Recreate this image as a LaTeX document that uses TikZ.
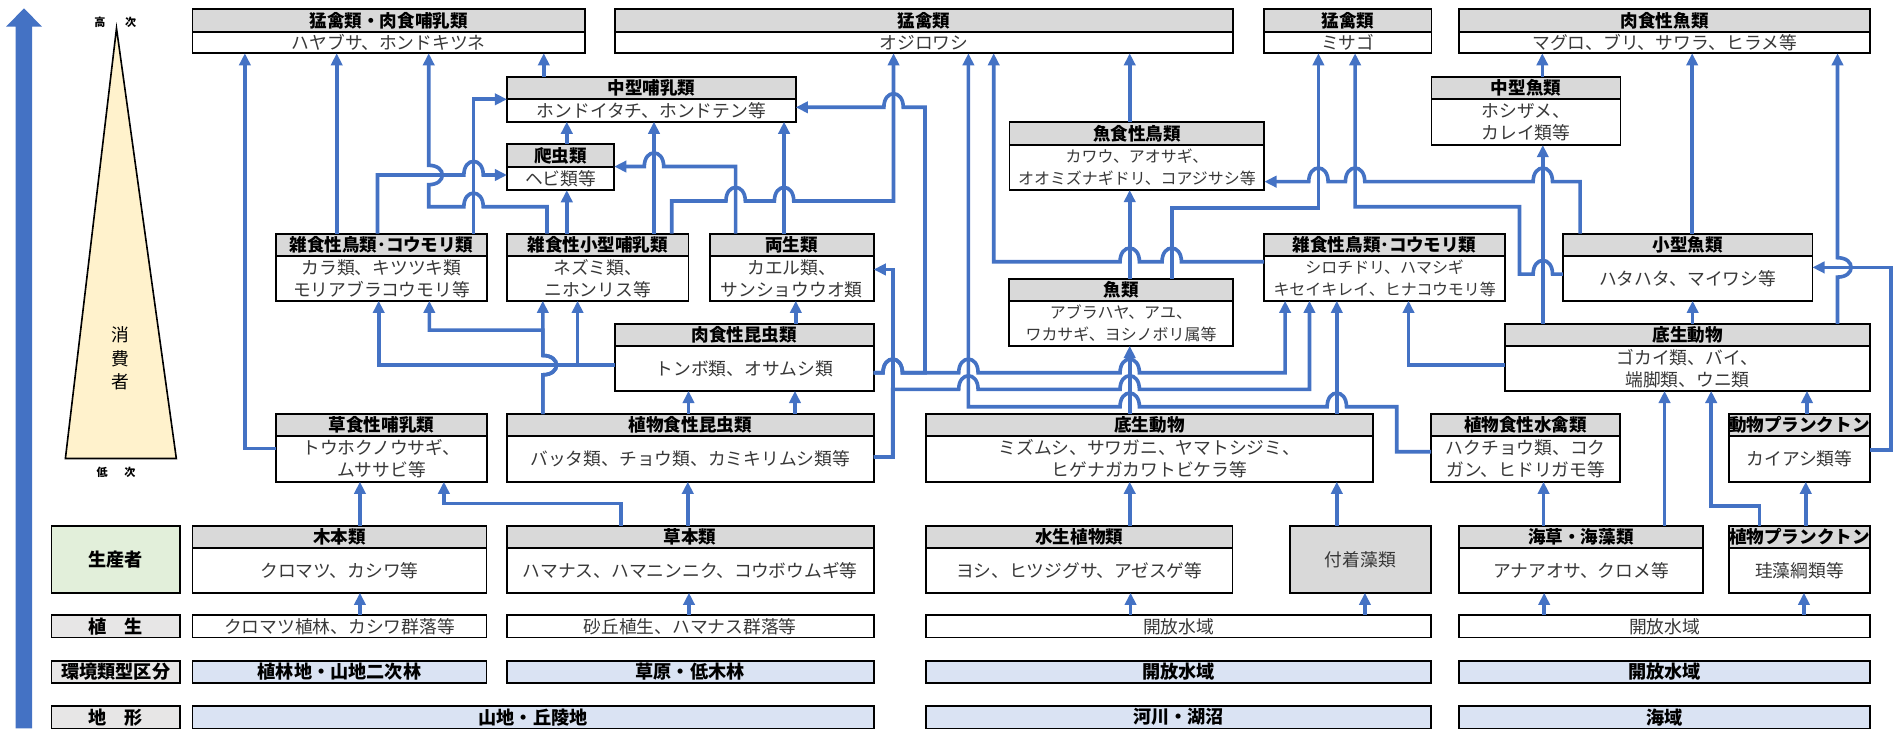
\documentclass[tikz,border=0pt]{standalone}
\usepackage{fontspec}
\setmainfont{Noto Sans CJK JP}
\usetikzlibrary{arrows.meta}
\definecolor{linkblue}{HTML}{4472C4}
\definecolor{hdrgray}{HTML}{D9D9D9}
\definecolor{labgray}{HTML}{E7E6E6}
\definecolor{envblue}{HTML}{DAE3F3}
\definecolor{prodgreen}{HTML}{E2EFDA}
\definecolor{triyellow}{HTML}{FFF2CC}
\newcommand\hdrfont{\fontsize{8.7}{10}\selectfont\bfseries}
\newcommand\bodyfont{\fontsize{8.8}{10.8}\selectfont}
\newcommand\smallbodyfont{\fontsize{7.9}{10.8}\selectfont}
\newcommand\labfont{\fontsize{9}{10}\selectfont\bfseries}
% box with header: name, x1, x2, ytop, yhdr, ybot, title, body, extra body style
\newcommand\tbx[9]{%
  \pgfmathsetmacro\bw{(#3-#2)*0.6}%
  \pgfmathsetmacro\hh{(#5-#4)*0.6}%
  \pgfmathsetmacro\bh{(#6-#5)*0.6}%
  \node[hdr, minimum width=\bw pt, minimum height=\hh pt] (#1h) at (#2,#4) {#7};%
  \node[bdy, minimum width=\bw pt, minimum height=\bh pt, #9] (#1) at (#2,#5) {#8};%
}
% single box: name, x1, x2, y1, y2, style, text
\newcommand\sbx[7]{%
  \pgfmathsetmacro\bw{(#3-#2)*0.6}%
  \pgfmathsetmacro\bh{(#5-#4)*0.6}%
  \node[plain, minimum width=\bw pt, minimum height=\bh pt, #6] (#1) at (#2,#4) {#7};%
}
% hops
\newcommand\hopR[2]{-- ({#1-8},#2) .. controls ({#1-8},{#2-15}) and ({#1+8},{#2-15}) .. ({#1+8},#2)}
\newcommand\hopL[2]{-- ({#1+8},#2) .. controls ({#1+8},{#2-15}) and ({#1-8},{#2-15}) .. ({#1-8},#2)}
\newcommand\hopU[2]{-- (#1,{#2+8}) .. controls ({#1+15},{#2+8}) and ({#1+15},{#2-8}) .. (#1,{#2-8})}
\tikzset{
  hdr/.style={draw=black, line width=0.9pt, fill=hdrgray, inner sep=0pt, outer sep=0pt, font=\hdrfont, anchor=north west},
  bdy/.style={draw=black, line width=0.9pt, fill=white, inner sep=0pt, outer sep=0pt, font=\bodyfont, text=black!78, align=center, anchor=north west},
  plain/.style={draw=black, line width=0.9pt, fill=white, inner sep=0pt, outer sep=0pt, font=\bodyfont, text=black!78, align=center, anchor=north west},
  envrow/.style={fill=envblue, font=\labfont, text=black},
  labcell/.style={fill=labgray, font=\labfont, text=black},
  conn/.style={draw=linkblue, line width=1.8pt},
  arr/.style={conn, -{Triangle[length=6pt,width=5.6pt]}},
  tinylab/.style={font=\fontsize{5.5}{6}\selectfont\bfseries, inner sep=0pt},
}
\begin{document}
\begin{tikzpicture}[x=0.6pt, y=-0.6pt]
\useasboundingbox (0,0) rectangle (1568,604);
% left decorations
\fill[linkblue] (12.8,601.5) -- (12.8,22) -- (5,22) -- (19.8,6.9) -- (34.7,22) -- (26.6,22) -- (26.6,601.5) -- cycle;
\draw[fill=triyellow, line width=0.8pt] (96.2,23.4) -- (145.6,378.6) -- (54,378.6) -- cycle;
\node[tinylab] (hi1) at (82.6,18.7) {高};
\node[tinylab] (hi2) at (107.8,18.7) {次};
\node[tinylab] (lo1) at (84.3,389.6) {低};
\node[tinylab] (lo2) at (107.2,389.6) {次};
\node[font=\fontsize{8.8}{11.6}\selectfont, align=center, inner sep=0pt] (cons) at (99.4,296) {消\\費\\者};

% consumer boxes
\tbx{A1}{159}{483}{7.4}{26.7}{44}{猛禽類・肉食哺乳類}{ハヤブサ、ホンドキツネ}{}
\tbx{oji}{507.7}{1018}{7.4}{26.7}{44}{猛禽類}{オジロワシ}{}
\tbx{mis}{1043.8}{1182}{7.4}{26.7}{44}{猛禽類}{ミサゴ}{}
\tbx{nkg}{1205}{1544}{7.4}{26.7}{44}{肉食性魚類}{マグロ、ブリ、サワラ、ヒラメ等}{}
\tbx{cmm}{418.6}{657.1}{63.6}{82}{100.5}{中型哺乳類}{ホンドイタチ、ホンドテン等}{}
\tbx{cgy}{1182}{1338}{63.6}{82}{119.8}{中型魚類}{ホシザメ、\\カレイ類等}{}
\tbx{hac}{418.6}{507.2}{119}{137.7}{157}{爬虫類}{ヘビ類等}{}
\tbx{gcb}{833.5}{1044}{101}{119.7}{156.9}{魚食性鳥類}{カワウ、アオサギ、\\オオミズナギドリ、コアジサシ等}{font=\smallbodyfont}
\tbx{zbl}{228}{402}{193}{211.5}{248.4}{雑食性鳥類･コウモリ類}{カラ類、キツツキ類\\モリアブラコウモリ等}{}
\tbx{zsm}{418.6}{568.5}{193}{211.5}{248.4}{雑食性小型哺乳類}{ネズミ類、\\ニホンリス等}{}
\tbx{ryo}{585.9}{721.4}{193}{211.5}{248.4}{両生類}{カエル類、\\サンショウウオ類}{}
\tbx{gyo}{833.3}{1017.9}{230.2}{248.4}{285.6}{魚類}{アブラハヤ、アユ、\\ワカサギ、ヨシノボリ属等}{font=\smallbodyfont}
\tbx{zbr}{1043.8}{1242.8}{193}{211.5}{248.4}{雑食性鳥類･コウモリ類}{シロチドリ、ハマシギ\\キセイキレイ、ヒナコウモリ等}{font=\smallbodyfont}
\tbx{kgy}{1290.5}{1496.5}{193}{211.5}{248.4}{小型魚類}{ハタハタ、マイワシ等}{}
\tbx{nkk}{507.7}{721.4}{267.4}{285.7}{322.8}{肉食性昆虫類}{トンボ類、オサムシ類}{}
\tbx{tss}{1242.8}{1544}{267.4}{285.7}{322.8}{底生動物}{ゴカイ類、バイ、\\端脚類、ウニ類}{}
\tbx{sos}{228}{402}{341.9}{360.2}{397.8}{草食性哺乳類}{トウホクノウサギ、\\ムササビ等}{}
\tbx{skk}{418.6}{721.4}{341.9}{360.2}{397.8}{植物食性昆虫類}{バッタ類、チョウ類、カミキリムシ類等}{}
\tbx{tsr}{764.7}{1133.5}{341.9}{360.2}{397.8}{底生動物}{ミズムシ、サワガニ、ヤマトシジミ、\\ヒゲナガカワトビケラ等}{}
\tbx{ssk}{1181.7}{1337.7}{341.9}{360.2}{397.8}{植物食性水禽類}{ハクチョウ類、コク\\ガン、ヒドリガモ等}{}
\tbx{zpl}{1427.5}{1544}{341.9}{360.2}{397.8}{動物プランクトン}{カイアシ類等}{}
% producers
\tbx{mok}{159}{401.7}{434.1}{452.8}{489.5}{木本類}{クロマツ、カシワ等}{}
\tbx{soh}{418.3}{721.4}{434.1}{452.8}{489.5}{草本類}{ハマナス、ハマニンニク、コウボウムギ等}{}
\tbx{sui}{764.7}{1017.6}{434.1}{452.8}{489.5}{水生植物類}{ヨシ、ヒツジグサ、アゼスゲ等}{}
\sbx{fuc}{1065}{1181.7}{434.1}{489.5}{fill=hdrgray}{付着藻類}
\tbx{kai}{1204.8}{1406}{434.1}{452.8}{489.5}{海草・海藻類}{アナアオサ、クロメ等}{}
\tbx{phy}{1427.7}{1544}{434.1}{452.8}{489.5}{植物プランクトン}{珪藻綱類等}{}
% label column
\sbx{lpr}{42.5}{148.6}{434.1}{489.5}{fill=prodgreen, font=\labfont, text=black}{生産者}
\sbx{lveg}{42.5}{148.6}{507.9}{526.3}{labcell}{植　生}
\sbx{lenv}{42.5}{148.6}{545.9}{563.8}{labcell}{環境類型区分}
\sbx{lter}{42.5}{148.6}{583}{601.5}{labcell}{地　形}
% vegetation row
\sbx{veg1}{159}{401.7}{507.9}{526.3}{}{クロマツ植林、カシワ群落等}
\sbx{veg2}{418.3}{721.4}{507.9}{526.3}{}{砂丘植生、ハマナス群落等}
\sbx{veg3}{764.7}{1181.7}{507.9}{526.3}{}{開放水域}
\sbx{veg4}{1204.8}{1544}{507.9}{526.3}{}{開放水域}
% environment row
\sbx{env1}{159}{401.7}{545.9}{563.8}{envrow}{植林地・山地二次林}
\sbx{env2}{418.3}{721.4}{545.9}{563.8}{envrow}{草原・低木林}
\sbx{env3}{764.7}{1181.7}{545.9}{563.8}{envrow}{開放水域}
\sbx{env4}{1204.8}{1544}{545.9}{563.8}{envrow}{開放水域}
% terrain row
\sbx{ter1}{159}{721.4}{583}{601.5}{envrow}{山地・丘陵地}
\sbx{ter2}{764.7}{1181.7}{583}{601.5}{envrow}{河川・湖沼}
\sbx{ter3}{1204.8}{1544}{583}{601.5}{envrow}{海域}

% ---------- connectors ----------
\draw[arr] (sos.west |- 0,370.3) -- (202.2,370.3) -- (202.2,0 |- A1.south);
\draw[arr] (278,0 |- zblh.north) -- (278,0 |- A1.south);
\draw[arr] (451.6,0 |- zsmh.north) -- (451.6,170.7) \hopL{391}{170.7} -- (354,170.7) \hopU{354}{144.5} -- (354,0 |- A1.south);
\draw[arr] (311.7,0 |- zblh.north) -- (311.7,144.5) \hopR{391}{144.5} -- (hac.west |- 0,144.5);
\draw[arr] (391,0 |- zblh.north) -- (391,82) -- (cmm.north west);
\draw[arr] (449,0 |- cmmh.north) -- (449,0 |- A1.south);
\draw[arr] (468,0 |- hach.north) -- (468,0 |- cmm.south);
\draw[arr] (468,0 |- zsmh.north) -- (468,0 |- hac.south);
\draw[arr] (607.4,0 |- ryoh.north) -- (607.4,137.5) \hopL{540}{137.5} -- (hac.east |- 0,137.5);
\draw[arr] (540,0 |- zsmh.north) -- (540,0 |- cmm.south);
\draw[arr] (647.4,0 |- ryoh.north) -- (647.4,0 |- cmm.south);
\draw[arr] (554.6,0 |- zsmh.north) -- (554.6,166) \hopR{607.4}{166} \hopR{647.4}{166} -- (737.8,166) -- (737.8,0 |- oji.south);
\draw[arr] (nkk.east |- 0,307.8) \hopR{737.1}{307.8} -- (763.8,307.8) -- (763.8,88.6) \hopL{737.8}{88.6} -- (cmm.east |- 0,88.6);
\draw[arr] (nkk.east |- 0,307.8) \hopR{737.1}{307.8} \hopR{799.6}{307.8} \hopR{932.8}{307.8} -- (1061.1,307.8) -- (1061.1,0 |- zbr.south);
\draw[arr] (skk.east |- 0,377.2) -- (737.1,377.2) -- (737.1,222.5) -- (ryo.east |- 0,222.5);
\draw[arr] (skk.east |- 0,377.2) -- (737.1,377.2) -- (737.1,321.5) \hopR{799.6}{321.5} \hopR{932.8}{321.5} -- (1081.2,321.5) -- (1081.2,0 |- zbr.south);
\draw[arr] (ssk.west |- 0,373) -- (1153.3,373) -- (1153.3,335.8) \hopL{1103.8}{335.8} \hopL{932.8}{335.8} -- (799.6,335.8) -- (799.6,0 |- oji.south);
\draw[arr] (zbr.west |- 0,216.1) \hopL{967.5}{216.1} \hopL{932.8}{216.1} -- (820.5,216.1) -- (820.5,0 |- oji.south);
\draw[arr] (932.8,0 |- tsrh.north) -- (932.8,0 |- gyo.south);
\draw[arr] (932.8,0 |- gyoh.north) -- (932.8,0 |- gcb.south);
\draw[arr] (932.8,0 |- gcbh.north) -- (932.8,0 |- oji.south);
\draw[arr] (967.5,0 |- gyoh.north) -- (967.5,172) -- (1088.6,172) -- (1088.6,0 |- mis.south);
\draw[arr] (1103.8,0 |- tsrh.north) -- (1103.8,0 |- zbr.south);
\draw[arr] (kgy.west |- 0,226.3) \hopL{1273.9}{226.3} -- (1254.6,226.3) -- (1254.6,170.7) -- (1118.9,170.7) -- (1118.9,0 |- mis.south);
\draw[arr] (1304.7,0 |- kgyh.north) -- (1304.7,150) \hopL{1273.9}{150} \hopL{1118.9}{150} \hopL{1088.6}{150} -- (gcb.east |- 0,150);
\draw[arr] (1273.9,0 |- tssh.north) -- (1273.9,0 |- cgy.south);
\draw[arr] (1273.5,0 |- cgyh.north) -- (1273.5,0 |- nkg.south);
\draw[arr] (1397.2,0 |- kgyh.north) -- (1397.2,0 |- nkg.south);
\draw[arr] (1397.6,0 |- tssh.north) -- (1397.6,0 |- kgy.south);
\draw[arr] (1517.2,0 |- tssh.north) \hopU{1517.2}{220.8} -- (1517.2,0 |- nkg.south);
\draw[arr] (zpl.east |- 0,371.6) -- (1561.3,371.6) -- (1561.3,220.8) -- (kgy.east |- 0,220.8);
\draw[arr] (tss.west |- 0,301.4) -- (1163,301.4) -- (1163,0 |- zbr.south);
\draw[arr] (1492,0 |- zplh.north) -- (1492,0 |- tss.south);
\draw[arr] (1374.4,0 |- kaih.north) -- (1374.4,0 |- tss.south);
\draw[arr] (1452.9,0 |- phyh.north) -- (1452.9,417.9) -- (1412.9,417.9) -- (1412.9,0 |- tss.south);
\draw[arr] (1491,0 |- phyh.north) -- (1491,0 |- zpl.south);
\draw[arr] (1274.5,0 |- kaih.north) -- (1274.5,0 |- ssk.south);
\draw[arr] (932.8,0 |- suih.north) -- (932.8,0 |- tsr.south);
\draw[arr] (1103.8,0 |- fuc.north) -- (1103.8,0 |- tsr.south);
\draw[arr] (933.5,0 |- veg3.north) -- (933.5,0 |- sui.south);
\draw[arr] (1127,0 |- veg3.north) -- (1127,0 |- fuc.south);
\draw[arr] (1275,0 |- veg4.north) -- (1275,0 |- kai.south);
\draw[arr] (1489.5,0 |- veg4.north) -- (1489.5,0 |- phy.south);
\draw[arr] (297.2,0 |- mokh.north) -- (297.2,0 |- sos.south);
\draw[arr] (512.8,0 |- sohh.north) -- (512.8,415.7) -- (366.5,415.7) -- (366.5,0 |- sos.south);
\draw[arr] (567.9,0 |- sohh.north) -- (567.9,0 |- skk.south);
\draw[arr] (297.2,0 |- veg1.north) -- (297.2,0 |- mok.south);
\draw[arr] (568.9,0 |- veg2.north) -- (568.9,0 |- soh.south);
\draw[arr] (568.5,0 |- skkh.north) -- (568.5,0 |- nkk.south);
\draw[arr] (656.4,0 |- skkh.north) -- (656.4,0 |- nkk.south);
\draw[arr] (657.1,0 |- nkkh.north) -- (657.1,0 |- ryo.south);
\draw[arr] (nkk.west |- 0,301.5) -- (312.7,301.5) -- (312.7,0 |- zbl.south);
\draw[arr] (nkk.west |- 0,301.5) -- (476.9,301.5) -- (476.9,0 |- zsm.south);
\draw[arr] (448.2,0 |- skkh.north) \hopU{448.2}{301.5} -- (448.2,0 |- zsm.south);
\draw[arr] (448.2,0 |- skkh.north) \hopU{448.2}{301.5} -- (448.2,272.6) -- (354.5,272.6) -- (354.5,0 |- zbl.south);
\end{tikzpicture}
\end{document}
